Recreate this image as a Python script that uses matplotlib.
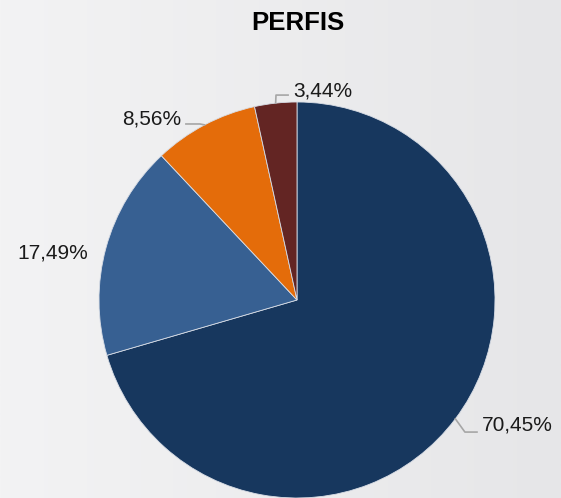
import numpy as np
import matplotlib.pyplot as plt
from matplotlib.colors import LinearSegmentedColormap

plt.rcParams['font.family'] = ['Liberation Sans', 'DejaVu Sans']

labels = ['70,45%', '17,49%', '8,56%', '3,44%']
values = [70.45, 17.49, 8.56, 3.44]
colors = ['#17375e', '#376092', '#e46c0a', '#632523']

# leader line offsets (elbow, end) and text placement, in pie radius units
elbows = [(0.848, -0.667), None, (-0.49, 0.889), (-0.106, 1.035)]
ends = [(0.909, -0.667), None, (-0.561, 0.889), (-0.045, 1.035)]
text_pos = [(0.934, -0.631, 'left'), (-1.056, 0.237, 'right'),
            (-0.586, 0.914, 'right'), (-0.02, 1.058, 'left')]

W, H = 561, 498
fig = plt.figure(figsize=(W / 100, H / 100), dpi=100)

# background gradient
bg = fig.add_axes([0, 0, 1, 1], zorder=0)
cmap = LinearSegmentedColormap.from_list('bg', ['#f3f3f4', '#e6e6e8'])
grad = np.linspace(0, 1, 256).reshape(1, -1)
bg.imshow(grad, cmap=cmap, aspect='auto', extent=[0, 1, 0, 1])
bg.set_axis_off()

cx, cy, r = 297, 300, 198
ax = fig.add_axes([(cx - r) / W, (H - cy - r) / H, 2 * r / W, 2 * r / H], zorder=1)
ax.set_facecolor('none')
wedges, _ = ax.pie(values, colors=colors, startangle=90, counterclock=False,
                   radius=1, wedgeprops=dict(edgecolor='#d8dde6', linewidth=0.6))
ax.set_xlim(-1, 1)
ax.set_ylim(-1, 1)
ax.set_aspect('equal')
ax.set_axis_off()

for i, w in enumerate(wedges):
    ang = np.deg2rad((w.theta1 + w.theta2) / 2)
    ex, ey = np.cos(ang), np.sin(ang)
    if elbows[i] is not None:
        xs = [ex, elbows[i][0], ends[i][0]]
        ys = [ey, elbows[i][1], ends[i][1]]
        ax.plot(xs, ys, color='#a6a6a6', lw=1.2, clip_on=False, zorder=3)
    tx, ty, ha = text_pos[i]
    ax.text(tx, ty, labels[i], ha=ha, va='center', fontsize=15,
            color='#1a1a1a', clip_on=False)

fig.text(298 / W, 1 - 23 / H, 'PERFIS', ha='center', va='center',
         fontsize=18.5, fontweight='bold', color='black')

fig.savefig('out.png', dpi=100)
